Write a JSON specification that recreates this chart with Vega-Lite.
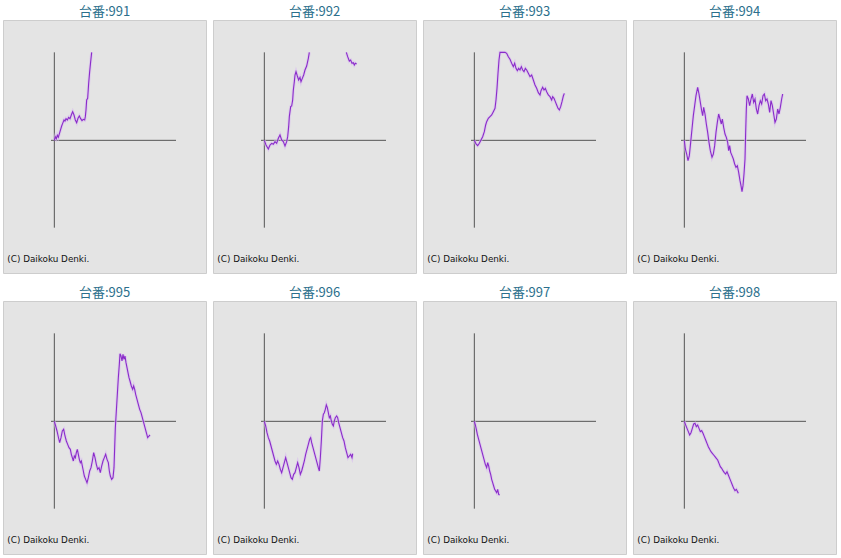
{
  "$schema": "https://vega.github.io/schema/vega-lite/v6.json",
  "padding": {"left": 2, "top": 5, "right": 0, "bottom": 0},
  "data": {
    "values": [
      {"m":991,"s":1,"x":0,"y":0},{"m":991,"s":1,"x":60,"y":220},{"m":991,"s":1,"x":120,"y":100},{"m":991,"s":1,"x":180,"y":300},{"m":991,"s":1,"x":240,"y":180},{"m":991,"s":1,"x":340,"y":520},{"m":991,"s":1,"x":440,"y":860},{"m":991,"s":1,"x":500,"y":1020},{"m":991,"s":1,"x":580,"y":1220},{"m":991,"s":1,"x":640,"y":1160},{"m":991,"s":1,"x":700,"y":1300},{"m":991,"s":1,"x":780,"y":1220},{"m":991,"s":1,"x":860,"y":1380},{"m":991,"s":1,"x":940,"y":1300},{"m":991,"s":1,"x":1040,"y":1580},{"m":991,"s":1,"x":1100,"y":1720},{"m":991,"s":1,"x":1180,"y":1520},{"m":991,"s":1,"x":1260,"y":1220},{"m":991,"s":1,"x":1340,"y":1060},{"m":991,"s":1,"x":1420,"y":1320},{"m":991,"s":1,"x":1500,"y":1460},{"m":991,"s":1,"x":1580,"y":1300},{"m":991,"s":1,"x":1660,"y":1180},{"m":991,"s":1,"x":1740,"y":1260},{"m":991,"s":1,"x":1820,"y":1220},{"m":991,"s":1,"x":1860,"y":1420},{"m":991,"s":1,"x":1900,"y":1820},{"m":991,"s":1,"x":1940,"y":2420},{"m":991,"s":1,"x":2000,"y":2520},{"m":991,"s":1,"x":2060,"y":3420},{"m":991,"s":1,"x":2120,"y":4120},{"m":991,"s":1,"x":2180,"y":4720},{"m":991,"s":1,"x":2240,"y":5280},

      {"m":992,"s":1,"x":0,"y":0},{"m":992,"s":1,"x":100,"y":-280},{"m":992,"s":1,"x":240,"y":-520},{"m":992,"s":1,"x":340,"y":-280},{"m":992,"s":1,"x":440,"y":-180},{"m":992,"s":1,"x":540,"y":-240},{"m":992,"s":1,"x":640,"y":-80},{"m":992,"s":1,"x":740,"y":-180},{"m":992,"s":1,"x":840,"y":120},{"m":992,"s":1,"x":940,"y":320},{"m":992,"s":1,"x":1040,"y":20},{"m":992,"s":1,"x":1140,"y":-80},{"m":992,"s":1,"x":1240,"y":-340},{"m":992,"s":1,"x":1340,"y":-80},{"m":992,"s":1,"x":1400,"y":220},{"m":992,"s":1,"x":1460,"y":820},{"m":992,"s":1,"x":1500,"y":1420},{"m":992,"s":1,"x":1580,"y":2020},{"m":992,"s":1,"x":1640,"y":2060},{"m":992,"s":1,"x":1700,"y":2420},{"m":992,"s":1,"x":1740,"y":3020},{"m":992,"s":1,"x":1800,"y":3520},{"m":992,"s":1,"x":1840,"y":3920},{"m":992,"s":1,"x":1900,"y":4120},{"m":992,"s":1,"x":1980,"y":3860},{"m":992,"s":1,"x":2060,"y":3620},{"m":992,"s":1,"x":2140,"y":3780},{"m":992,"s":1,"x":2200,"y":3520},{"m":992,"s":1,"x":2280,"y":3720},{"m":992,"s":1,"x":2360,"y":3920},{"m":992,"s":1,"x":2440,"y":4220},{"m":992,"s":1,"x":2540,"y":4460},{"m":992,"s":1,"x":2640,"y":4920},{"m":992,"s":1,"x":2700,"y":5280},
      {"m":992,"s":2,"x":4920,"y":5280},{"m":992,"s":2,"x":5000,"y":5020},{"m":992,"s":2,"x":5100,"y":4760},{"m":992,"s":2,"x":5180,"y":4820},{"m":992,"s":2,"x":5260,"y":4620},{"m":992,"s":2,"x":5340,"y":4660},{"m":992,"s":2,"x":5400,"y":4520},{"m":992,"s":2,"x":5460,"y":4620},{"m":992,"s":2,"x":5540,"y":4580},

      {"m":993,"s":1,"x":0,"y":0},{"m":993,"s":1,"x":100,"y":-220},{"m":993,"s":1,"x":200,"y":-320},{"m":993,"s":1,"x":300,"y":-180},{"m":993,"s":1,"x":400,"y":20},{"m":993,"s":1,"x":500,"y":220},{"m":993,"s":1,"x":600,"y":520},{"m":993,"s":1,"x":680,"y":920},{"m":993,"s":1,"x":740,"y":1120},{"m":993,"s":1,"x":840,"y":1320},{"m":993,"s":1,"x":940,"y":1420},{"m":993,"s":1,"x":1040,"y":1520},{"m":993,"s":1,"x":1140,"y":1720},{"m":993,"s":1,"x":1240,"y":1920},{"m":993,"s":1,"x":1300,"y":2420},{"m":993,"s":1,"x":1360,"y":3120},{"m":993,"s":1,"x":1420,"y":4020},{"m":993,"s":1,"x":1480,"y":4820},{"m":993,"s":1,"x":1540,"y":5280},{"m":993,"s":1,"x":1840,"y":5280},{"m":993,"s":1,"x":1940,"y":5220},{"m":993,"s":1,"x":2040,"y":5020},{"m":993,"s":1,"x":2140,"y":4860},{"m":993,"s":1,"x":2240,"y":4620},{"m":993,"s":1,"x":2340,"y":4420},{"m":993,"s":1,"x":2420,"y":4620},{"m":993,"s":1,"x":2500,"y":4320},{"m":993,"s":1,"x":2580,"y":4180},{"m":993,"s":1,"x":2660,"y":4320},{"m":993,"s":1,"x":2740,"y":4220},{"m":993,"s":1,"x":2820,"y":4420},{"m":993,"s":1,"x":2900,"y":4220},{"m":993,"s":1,"x":2980,"y":4120},{"m":993,"s":1,"x":3060,"y":4320},{"m":993,"s":1,"x":3140,"y":4220},{"m":993,"s":1,"x":3240,"y":4020},{"m":993,"s":1,"x":3340,"y":3820},{"m":993,"s":1,"x":3440,"y":3920},{"m":993,"s":1,"x":3540,"y":3620},{"m":993,"s":1,"x":3640,"y":3320},{"m":993,"s":1,"x":3740,"y":3120},{"m":993,"s":1,"x":3840,"y":2860},{"m":993,"s":1,"x":3940,"y":2720},{"m":993,"s":1,"x":4000,"y":2980},{"m":993,"s":1,"x":4100,"y":3180},{"m":993,"s":1,"x":4180,"y":3020},{"m":993,"s":1,"x":4260,"y":3120},{"m":993,"s":1,"x":4340,"y":2920},{"m":993,"s":1,"x":4440,"y":2720},{"m":993,"s":1,"x":4540,"y":2620},{"m":993,"s":1,"x":4640,"y":2420},{"m":993,"s":1,"x":4700,"y":2620},{"m":993,"s":1,"x":4780,"y":2520},{"m":993,"s":1,"x":4860,"y":2320},{"m":993,"s":1,"x":4940,"y":2120},{"m":993,"s":1,"x":5020,"y":1920},{"m":993,"s":1,"x":5100,"y":1820},{"m":993,"s":1,"x":5180,"y":2020},{"m":993,"s":1,"x":5260,"y":2320},{"m":993,"s":1,"x":5340,"y":2660},{"m":993,"s":1,"x":5400,"y":2820},

      {"m":994,"s":1,"x":0,"y":0},{"m":994,"s":1,"x":60,"y":-520},{"m":994,"s":1,"x":140,"y":-820},{"m":994,"s":1,"x":220,"y":-1220},{"m":994,"s":1,"x":300,"y":-920},{"m":994,"s":1,"x":380,"y":-120},{"m":994,"s":1,"x":460,"y":680},{"m":994,"s":1,"x":540,"y":1480},{"m":994,"s":1,"x":620,"y":2080},{"m":994,"s":1,"x":700,"y":2680},{"m":994,"s":1,"x":800,"y":3180},{"m":994,"s":1,"x":880,"y":2780},{"m":994,"s":1,"x":960,"y":2280},{"m":994,"s":1,"x":1040,"y":1780},{"m":994,"s":1,"x":1100,"y":1480},{"m":994,"s":1,"x":1160,"y":1980},{"m":994,"s":1,"x":1240,"y":1580},{"m":994,"s":1,"x":1320,"y":980},{"m":994,"s":1,"x":1400,"y":480},{"m":994,"s":1,"x":1480,"y":-120},{"m":994,"s":1,"x":1560,"y":-620},{"m":994,"s":1,"x":1660,"y":-1020},{"m":994,"s":1,"x":1740,"y":-820},{"m":994,"s":1,"x":1820,"y":-320},{"m":994,"s":1,"x":1900,"y":480},{"m":994,"s":1,"x":1980,"y":1080},{"m":994,"s":1,"x":2060,"y":1580},{"m":994,"s":1,"x":2140,"y":1280},{"m":994,"s":1,"x":2220,"y":980},{"m":994,"s":1,"x":2280,"y":1280},{"m":994,"s":1,"x":2360,"y":780},{"m":994,"s":1,"x":2440,"y":380},{"m":994,"s":1,"x":2520,"y":180},{"m":994,"s":1,"x":2600,"y":-120},{"m":994,"s":1,"x":2660,"y":-620},{"m":994,"s":1,"x":2720,"y":-320},{"m":994,"s":1,"x":2780,"y":-720},{"m":994,"s":1,"x":2860,"y":-920},{"m":994,"s":1,"x":2940,"y":-1120},{"m":994,"s":1,"x":3020,"y":-1420},{"m":994,"s":1,"x":3100,"y":-1620},{"m":994,"s":1,"x":3180,"y":-1520},{"m":994,"s":1,"x":3260,"y":-1920},{"m":994,"s":1,"x":3340,"y":-2420},{"m":994,"s":1,"x":3400,"y":-2720},{"m":994,"s":1,"x":3460,"y":-3080},{"m":994,"s":1,"x":3520,"y":-2720},{"m":994,"s":1,"x":3580,"y":-2020},{"m":994,"s":1,"x":3640,"y":-1120},{"m":994,"s":1,"x":3680,"y":480},{"m":994,"s":1,"x":3720,"y":1880},{"m":994,"s":1,"x":3760,"y":2680},{"m":994,"s":1,"x":3840,"y":2480},{"m":994,"s":1,"x":3920,"y":2080},{"m":994,"s":1,"x":4000,"y":2480},{"m":994,"s":1,"x":4080,"y":2780},{"m":994,"s":1,"x":4160,"y":2280},{"m":994,"s":1,"x":4240,"y":2480},{"m":994,"s":1,"x":4320,"y":1880},{"m":994,"s":1,"x":4400,"y":1580},{"m":994,"s":1,"x":4480,"y":2080},{"m":994,"s":1,"x":4560,"y":2380},{"m":994,"s":1,"x":4640,"y":2180},{"m":994,"s":1,"x":4720,"y":2680},{"m":994,"s":1,"x":4800,"y":2780},{"m":994,"s":1,"x":4880,"y":2380},{"m":994,"s":1,"x":4960,"y":2480},{"m":994,"s":1,"x":5040,"y":2180},{"m":994,"s":1,"x":5120,"y":1680},{"m":994,"s":1,"x":5200,"y":2380},{"m":994,"s":1,"x":5280,"y":2080},{"m":994,"s":1,"x":5360,"y":1580},{"m":994,"s":1,"x":5440,"y":1080},{"m":994,"s":1,"x":5520,"y":1280},{"m":994,"s":1,"x":5600,"y":1880},{"m":994,"s":1,"x":5680,"y":1580},{"m":994,"s":1,"x":5760,"y":1980},{"m":994,"s":1,"x":5840,"y":2480},{"m":994,"s":1,"x":5900,"y":2780},

      {"m":995,"s":1,"x":0,"y":0},{"m":995,"s":1,"x":80,"y":-280},{"m":995,"s":1,"x":160,"y":-580},{"m":995,"s":1,"x":240,"y":-940},{"m":995,"s":1,"x":320,"y":-1280},{"m":995,"s":1,"x":400,"y":-980},{"m":995,"s":1,"x":480,"y":-580},{"m":995,"s":1,"x":560,"y":-480},{"m":995,"s":1,"x":640,"y":-880},{"m":995,"s":1,"x":720,"y":-1180},{"m":995,"s":1,"x":800,"y":-1380},{"m":995,"s":1,"x":880,"y":-1580},{"m":995,"s":1,"x":960,"y":-1680},{"m":995,"s":1,"x":1020,"y":-1980},{"m":995,"s":1,"x":1080,"y":-2180},{"m":995,"s":1,"x":1140,"y":-2380},{"m":995,"s":1,"x":1200,"y":-2080},{"m":995,"s":1,"x":1260,"y":-2180},{"m":995,"s":1,"x":1320,"y":-1880},{"m":995,"s":1,"x":1380,"y":-1680},{"m":995,"s":1,"x":1440,"y":-1980},{"m":995,"s":1,"x":1500,"y":-2280},{"m":995,"s":1,"x":1560,"y":-2480},{"m":995,"s":1,"x":1620,"y":-2380},{"m":995,"s":1,"x":1680,"y":-2680},{"m":995,"s":1,"x":1740,"y":-2980},{"m":995,"s":1,"x":1800,"y":-3280},{"m":995,"s":1,"x":1880,"y":-3480},{"m":995,"s":1,"x":1960,"y":-3680},{"m":995,"s":1,"x":2040,"y":-3380},{"m":995,"s":1,"x":2120,"y":-2980},{"m":995,"s":1,"x":2200,"y":-2780},{"m":995,"s":1,"x":2280,"y":-2380},{"m":995,"s":1,"x":2360,"y":-1880},{"m":995,"s":1,"x":2440,"y":-2180},{"m":995,"s":1,"x":2520,"y":-2580},{"m":995,"s":1,"x":2600,"y":-2880},{"m":995,"s":1,"x":2680,"y":-2780},{"m":995,"s":1,"x":2760,"y":-3080},{"m":995,"s":1,"x":2840,"y":-2680},{"m":995,"s":1,"x":2920,"y":-2380},{"m":995,"s":1,"x":3000,"y":-2180},{"m":995,"s":1,"x":3080,"y":-1980},{"m":995,"s":1,"x":3160,"y":-2280},{"m":995,"s":1,"x":3240,"y":-2480},{"m":995,"s":1,"x":3300,"y":-2980},{"m":995,"s":1,"x":3360,"y":-3280},{"m":995,"s":1,"x":3440,"y":-3480},{"m":995,"s":1,"x":3520,"y":-3380},{"m":995,"s":1,"x":3580,"y":-2780},{"m":995,"s":1,"x":3620,"y":-1580},{"m":995,"s":1,"x":3660,"y":-380},{"m":995,"s":1,"x":3720,"y":620},{"m":995,"s":1,"x":3780,"y":1620},{"m":995,"s":1,"x":3840,"y":2620},{"m":995,"s":1,"x":3900,"y":3420},{"m":995,"s":1,"x":3940,"y":4060},{"m":995,"s":1,"x":4000,"y":3920},{"m":995,"s":1,"x":4060,"y":3620},{"m":995,"s":1,"x":4120,"y":4020},{"m":995,"s":1,"x":4180,"y":3720},{"m":995,"s":1,"x":4240,"y":3920},{"m":995,"s":1,"x":4300,"y":3520},{"m":995,"s":1,"x":4360,"y":3220},{"m":995,"s":1,"x":4420,"y":2920},{"m":995,"s":1,"x":4480,"y":2620},{"m":995,"s":1,"x":4540,"y":2420},{"m":995,"s":1,"x":4620,"y":2120},{"m":995,"s":1,"x":4700,"y":1920},{"m":995,"s":1,"x":4760,"y":2120},{"m":995,"s":1,"x":4820,"y":1920},{"m":995,"s":1,"x":4880,"y":1620},{"m":995,"s":1,"x":4960,"y":1320},{"m":995,"s":1,"x":5040,"y":1020},{"m":995,"s":1,"x":5120,"y":720},{"m":995,"s":1,"x":5200,"y":520},{"m":995,"s":1,"x":5280,"y":220},{"m":995,"s":1,"x":5360,"y":-80},{"m":995,"s":1,"x":5440,"y":-380},{"m":995,"s":1,"x":5520,"y":-680},{"m":995,"s":1,"x":5600,"y":-980},{"m":995,"s":1,"x":5680,"y":-880},{"m":995,"s":1,"x":5740,"y":-820},

      {"m":996,"s":1,"x":0,"y":0},{"m":996,"s":1,"x":80,"y":-280},{"m":996,"s":1,"x":160,"y":-680},{"m":996,"s":1,"x":240,"y":-980},{"m":996,"s":1,"x":320,"y":-1180},{"m":996,"s":1,"x":400,"y":-1480},{"m":996,"s":1,"x":480,"y":-1780},{"m":996,"s":1,"x":560,"y":-2080},{"m":996,"s":1,"x":640,"y":-2380},{"m":996,"s":1,"x":720,"y":-2580},{"m":996,"s":1,"x":800,"y":-2380},{"m":996,"s":1,"x":880,"y":-2580},{"m":996,"s":1,"x":960,"y":-2880},{"m":996,"s":1,"x":1040,"y":-3080},{"m":996,"s":1,"x":1120,"y":-2780},{"m":996,"s":1,"x":1200,"y":-2480},{"m":996,"s":1,"x":1280,"y":-2180},{"m":996,"s":1,"x":1360,"y":-2480},{"m":996,"s":1,"x":1440,"y":-2780},{"m":996,"s":1,"x":1520,"y":-3080},{"m":996,"s":1,"x":1600,"y":-3380},{"m":996,"s":1,"x":1680,"y":-3480},{"m":996,"s":1,"x":1760,"y":-3180},{"m":996,"s":1,"x":1840,"y":-3080},{"m":996,"s":1,"x":1920,"y":-2780},{"m":996,"s":1,"x":2000,"y":-2480},{"m":996,"s":1,"x":2080,"y":-2780},{"m":996,"s":1,"x":2160,"y":-3180},{"m":996,"s":1,"x":2240,"y":-2980},{"m":996,"s":1,"x":2320,"y":-2680},{"m":996,"s":1,"x":2400,"y":-2380},{"m":996,"s":1,"x":2480,"y":-1980},{"m":996,"s":1,"x":2560,"y":-1680},{"m":996,"s":1,"x":2640,"y":-1380},{"m":996,"s":1,"x":2720,"y":-1080},{"m":996,"s":1,"x":2780,"y":-980},{"m":996,"s":1,"x":2840,"y":-1280},{"m":996,"s":1,"x":2920,"y":-1580},{"m":996,"s":1,"x":3000,"y":-1880},{"m":996,"s":1,"x":3080,"y":-2180},{"m":996,"s":1,"x":3160,"y":-2480},{"m":996,"s":1,"x":3240,"y":-2780},{"m":996,"s":1,"x":3300,"y":-2980},{"m":996,"s":1,"x":3360,"y":-2180},{"m":996,"s":1,"x":3420,"y":-1180},{"m":996,"s":1,"x":3480,"y":20},{"m":996,"s":1,"x":3540,"y":420},{"m":996,"s":1,"x":3600,"y":520},{"m":996,"s":1,"x":3660,"y":720},{"m":996,"s":1,"x":3720,"y":980},{"m":996,"s":1,"x":3780,"y":820},{"m":996,"s":1,"x":3840,"y":520},{"m":996,"s":1,"x":3900,"y":220},{"m":996,"s":1,"x":3960,"y":320},{"m":996,"s":1,"x":4020,"y":20},{"m":996,"s":1,"x":4080,"y":-180},{"m":996,"s":1,"x":4140,"y":-280},{"m":996,"s":1,"x":4200,"y":20},{"m":996,"s":1,"x":4260,"y":220},{"m":996,"s":1,"x":4340,"y":320},{"m":996,"s":1,"x":4400,"y":220},{"m":996,"s":1,"x":4460,"y":-80},{"m":996,"s":1,"x":4540,"y":-380},{"m":996,"s":1,"x":4620,"y":-680},{"m":996,"s":1,"x":4700,"y":-980},{"m":996,"s":1,"x":4780,"y":-1180},{"m":996,"s":1,"x":4860,"y":-1580},{"m":996,"s":1,"x":4940,"y":-1880},{"m":996,"s":1,"x":5020,"y":-2180},{"m":996,"s":1,"x":5100,"y":-2080},{"m":996,"s":1,"x":5180,"y":-1980},{"m":996,"s":1,"x":5260,"y":-2180},{"m":996,"s":1,"x":5300,"y":-1940},

      {"m":997,"s":1,"x":0,"y":0},{"m":997,"s":1,"x":60,"y":-220},{"m":997,"s":1,"x":120,"y":-480},{"m":997,"s":1,"x":180,"y":-780},{"m":997,"s":1,"x":260,"y":-1080},{"m":997,"s":1,"x":340,"y":-1380},{"m":997,"s":1,"x":420,"y":-1680},{"m":997,"s":1,"x":500,"y":-1980},{"m":997,"s":1,"x":580,"y":-2280},{"m":997,"s":1,"x":660,"y":-2580},{"m":997,"s":1,"x":740,"y":-2780},{"m":997,"s":1,"x":800,"y":-2480},{"m":997,"s":1,"x":860,"y":-2680},{"m":997,"s":1,"x":920,"y":-2980},{"m":997,"s":1,"x":980,"y":-3180},{"m":997,"s":1,"x":1040,"y":-3480},{"m":997,"s":1,"x":1100,"y":-3680},{"m":997,"s":1,"x":1160,"y":-3880},{"m":997,"s":1,"x":1220,"y":-4080},{"m":997,"s":1,"x":1280,"y":-4180},{"m":997,"s":1,"x":1340,"y":-4280},{"m":997,"s":1,"x":1400,"y":-4080},{"m":997,"s":1,"x":1460,"y":-4380},{"m":997,"s":1,"x":1520,"y":-4420},

      {"m":998,"s":1,"x":0,"y":0},{"m":998,"s":1,"x":80,"y":-220},{"m":998,"s":1,"x":160,"y":-420},{"m":998,"s":1,"x":240,"y":-620},{"m":998,"s":1,"x":320,"y":-820},{"m":998,"s":1,"x":400,"y":-680},{"m":998,"s":1,"x":480,"y":-420},{"m":998,"s":1,"x":560,"y":-160},{"m":998,"s":1,"x":640,"y":-120},{"m":998,"s":1,"x":720,"y":-320},{"m":998,"s":1,"x":800,"y":-220},{"m":998,"s":1,"x":880,"y":-420},{"m":998,"s":1,"x":960,"y":-620},{"m":998,"s":1,"x":1040,"y":-560},{"m":998,"s":1,"x":1120,"y":-720},{"m":998,"s":1,"x":1200,"y":-920},{"m":998,"s":1,"x":1280,"y":-1120},{"m":998,"s":1,"x":1360,"y":-1320},{"m":998,"s":1,"x":1440,"y":-1520},{"m":998,"s":1,"x":1520,"y":-1680},{"m":998,"s":1,"x":1600,"y":-1820},{"m":998,"s":1,"x":1680,"y":-1920},{"m":998,"s":1,"x":1760,"y":-2020},{"m":998,"s":1,"x":1840,"y":-2120},{"m":998,"s":1,"x":1920,"y":-2220},{"m":998,"s":1,"x":2000,"y":-2320},{"m":998,"s":1,"x":2080,"y":-2520},{"m":998,"s":1,"x":2160,"y":-2720},{"m":998,"s":1,"x":2240,"y":-2820},{"m":998,"s":1,"x":2320,"y":-2960},{"m":998,"s":1,"x":2400,"y":-3080},{"m":998,"s":1,"x":2480,"y":-3160},{"m":998,"s":1,"x":2560,"y":-3020},{"m":998,"s":1,"x":2640,"y":-3220},{"m":998,"s":1,"x":2720,"y":-3420},{"m":998,"s":1,"x":2800,"y":-3620},{"m":998,"s":1,"x":2880,"y":-3820},{"m":998,"s":1,"x":2960,"y":-4020},{"m":998,"s":1,"x":3040,"y":-4160},{"m":998,"s":1,"x":3120,"y":-4080},{"m":998,"s":1,"x":3200,"y":-4240},{"m":998,"s":1,"x":3240,"y":-4320}
    ]
  },
  "facet": {
    "field": "m",
    "type": "ordinal",
    "title": null,
    "header": {
      "title": null,
      "labelExpr": "'台番:' + datum.value",
      "labelFont": "Noto Sans CJK JP",
      "labelFontSize": 13,
      "labelColor": "#2b6f8c",
      "labelPadding": 1
    }
  },
  "columns": 4,
  "spacing": {"column": 5, "row": 12},
  "resolve": {"scale": {"x": "shared", "y": "shared"}},
  "spec": {
    "width": 203,
    "height": 253,
    "layer": [
      {
        "transform": [{"aggregate": [{"op": "count", "as": "n"}]}],
        "mark": {"type": "rule", "color": "#555555", "strokeWidth": 1},
        "encoding": {
          "x": {"datum": 0, "type": "quantitative", "scale": {"domain": [-3080, 9100], "nice": false, "zero": false}, "axis": null},
          "y": {"datum": -5240, "type": "quantitative", "scale": {"domain": [-7960, 7220], "nice": false, "zero": false}, "axis": null},
          "y2": {"datum": 5280}
        }
      },
      {
        "transform": [{"aggregate": [{"op": "count", "as": "n"}]}],
        "mark": {"type": "rule", "color": "#555555", "strokeWidth": 1},
        "encoding": {
          "x": {"datum": -200, "type": "quantitative"},
          "x2": {"datum": 7300},
          "y": {"datum": 0, "type": "quantitative"}
        }
      },
      {
        "mark": {"type": "line", "color": "#d9bdf0", "strokeWidth": 3, "opacity": 0.6},
        "encoding": {
          "x": {"field": "x", "type": "quantitative"},
          "y": {"field": "y", "type": "quantitative"},
          "detail": {"field": "s", "type": "nominal"}
        }
      },
      {
        "mark": {"type": "line", "color": "#8a2cc9", "strokeWidth": 1.1},
        "encoding": {
          "x": {"field": "x", "type": "quantitative"},
          "y": {"field": "y", "type": "quantitative"},
          "detail": {"field": "s", "type": "nominal"}
        }
      },
      {
        "transform": [{"aggregate": [{"op": "count", "as": "n"}]}],
        "mark": {"type": "text", "align": "left", "baseline": "middle", "font": "DejaVu Sans", "fontSize": 8.8, "color": "#111111", "text": "(C) Daikoku Denki."},
        "encoding": {
          "x": {"datum": -2820, "type": "quantitative"},
          "y": {"datum": -7120, "type": "quantitative"}
        }
      }
    ]
  },
  "config": {
    "view": {"fill": "#e4e4e4", "stroke": "#cdcdcd", "strokeWidth": 1},
    "background": "#ffffff"
  }
}
